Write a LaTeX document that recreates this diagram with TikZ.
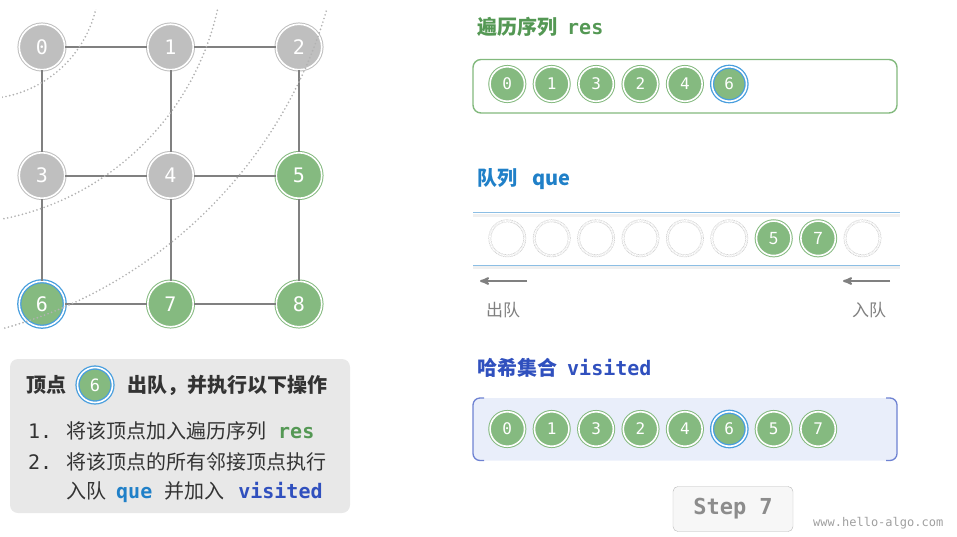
\documentclass[tikz,border=0pt]{standalone}
\usepackage{fontspec}
\setmainfont{Noto Sans CJK SC}
\newfontfamily\codefont{DejaVu Sans Mono}
\usetikzlibrary{arrows,positioning}

\definecolor{vgray}{RGB}{191,191,191}
\definecolor{vgreen}{RGB}{133,186,128}
\definecolor{ringblue}{RGB}{72,158,222}
\definecolor{edgegray}{RGB}{128,128,128}
\definecolor{resgreen}{RGB}{84,152,84}
\definecolor{queblue}{RGB}{32,128,200}
\definecolor{visblue}{RGB}{48,80,190}
\definecolor{boxgray}{RGB}{232,232,232}
\definecolor{visfill}{RGB}{233,238,250}
\definecolor{visborder}{RGB}{110,130,210}
\definecolor{resborder}{RGB}{130,185,125}
\definecolor{qline}{RGB}{140,190,228}
\definecolor{textdark}{RGB}{51,51,51}
\definecolor{labelgray}{RGB}{128,128,128}

\newcommand{\codeword}[2]{\textcolor{#1}{\codefont\bfseries #2}}

\begin{document}
\begin{tikzpicture}[x=1pt,y=-1pt,node distance=128.5pt]
    \tikzstyle{vertex}=[circle, minimum size=45.5pt, inner sep=0pt, line width=1pt, double=white, double distance=1.6pt, draw=vgray, fill=vgray, text=white, font=\codefont\fontsize{20}{20}\selectfont]
    \tikzstyle{seen}=[draw=vgreen, fill=vgreen]
    \tikzstyle{current}=[draw=ringblue, fill=vgreen, line width=1.3pt]
    \tikzstyle{small}=[minimum size=34.5pt, font=\codefont\fontsize{16}{16}\selectfont]
    \tikzstyle{slot}=[circle, minimum size=35pt, inner sep=0pt, line width=0.6pt, double=white, double distance=1.6pt, draw=gray!40, dash pattern=on 1pt off 0.7pt]
    \tikzstyle{link}=[draw=edgegray, line width=2pt]
    \tikzstyle{wave}=[draw=gray!60, line width=1.9pt, line cap=round, dash pattern=on 0pt off 3.8pt]
    \tikzstyle{heading}=[anchor=base west, inner sep=0pt, font=\bfseries\fontsize{20}{24}\selectfont]
    \tikzstyle{note}=[anchor=base west, inner sep=0pt, text=textdark, font=\fontsize{20}{24}\selectfont]
    \tikzstyle{arrowline}=[draw=labelgray, line width=2pt, -stealth']
    \tikzstyle{stepbox}=[draw=gray!55, fill=gray!6, rounded corners=5pt, minimum width=120pt, minimum height=45pt, text=gray!110!black, font=\codefont\bfseries\fontsize{22}{22}\selectfont]

    \useasboundingbox (0,0) rectangle (957,536);

    % graph
    \node[vertex]          (v0) at (42,47) {0};
    \node[vertex]          (v1) [right of=v0] {1};
    \node[vertex]          (v2) [right of=v1] {2};
    \node[vertex]          (v3) [below of=v0] {3};
    \node[vertex]          (v4) [right of=v3] {4};
    \node[vertex, seen]    (v5) [right of=v4] {5};
    \node[vertex, current] (v6) [below of=v3] {6};
    \node[vertex, seen]    (v7) [right of=v6] {7};
    \node[vertex, seen]    (v8) [right of=v7] {8};

    \path[link] (v0) edge (v1);
    \path[link] (v1) edge (v2);
    \path[link] (v0) edge (v3);
    \path[link] (v1) edge (v4);
    \path[link] (v2) edge (v5);
    \path[link] (v3) edge (v4);
    \path[link] (v4) edge (v5);
    \path[link] (v3) edge (v6);
    \path[link] (v4) edge (v7);
    \path[link] (v5) edge (v8);
    \path[link] (v6) edge (v7);
    \path[link] (v7) edge (v8);

    % distance rings
    \begin{scope}
      \clip (2,9) rectangle (345,345);
      \draw[wave] (-18,-18) circle[radius=117];
      \draw[wave] (-50,-50) circle[radius=274];
      \draw[wave] (-120,-120) circle[radius=465];
    \end{scope}

    % operation box
    \fill[boxgray, rounded corners=8pt] (10,359) rectangle (350,513);
    \node[heading, text=textdark] (optitle) at (26,392) {顶点};
    \node[vertex, current, minimum size=35pt, font=\codefont\fontsize{17}{17}\selectfont] (opnode) at (95,385) {6};
    \node[heading, text=textdark] (opaction) at (127,392) {出队，并执行以下操作};
    \node[note] (num1) at (28,438) {{\codefont 1.}};
    \node[note] (op1) at (66,438) {将该顶点加入遍历序列\hspace{12pt}\codeword{resgreen}{res}};
    \node[note] (num2) at (28,469) {{\codefont 2.}};
    \node[note] (op2) at (66,469) {将该顶点的所有邻接顶点执行};
    \node[note] (op2b) at (66,498) {入队\hspace{10pt}\codeword{queblue}{que}\hspace{12pt}并加入\hspace{14pt}\codeword{visblue}{visited}};

    % res
    \node[heading, text=resgreen] (restitle) at (477,34) {遍历序列\hspace{10pt}{\codefont res}};
    \draw[resborder, line width=1.4pt, rounded corners=8pt] (473,59.5) rectangle (897,113);
    \begin{scope}[node distance=44.4pt]
      \node[vertex, small, seen]    (r0) at (507.3,84) {0};
      \node[vertex, small, seen]    (r1) [right of=r0] {1};
      \node[vertex, small, seen]    (r2) [right of=r1] {3};
      \node[vertex, small, seen]    (r3) [right of=r2] {2};
      \node[vertex, small, seen]    (r4) [right of=r3] {4};
      \node[vertex, small, current] (r5) [right of=r4] {6};
    \end{scope}

    % que
    \node[heading, text=queblue] (quetitle) at (477,185) {队列\hspace{15pt}que};
    \draw[gray!12, line width=3pt] (473,215) -- (900,215);
    \draw[gray!12, line width=3pt] (473,267.5) -- (900,267.5);
    \draw[qline, line width=1.2pt] (473,212.7) -- (900,212.7);
    \draw[qline, line width=1.2pt] (473,265.3) -- (900,265.3);
    \begin{scope}[node distance=44.4pt]
      \node[slot] (q0) at (507.3,238.3) {};
      \node[slot] (q1) [right of=q0] {};
      \node[slot] (q2) [right of=q1] {};
      \node[slot] (q3) [right of=q2] {};
      \node[slot] (q4) [right of=q3] {};
      \node[slot] (q5) [right of=q4] {};
      \node[vertex, small, seen, font=\fontsize{17}{17}\selectfont] (q6) [right of=q5] {5};
      \node[vertex, small, seen, font=\fontsize{17}{17}\selectfont] (q7) [right of=q6] {7};
      \node[slot] (q8) [right of=q7] {};
    \end{scope}
    \coordinate (outtail) at (527,281);
    \coordinate (outhead) at (480,281);
    \coordinate (intail) at (890,281);
    \coordinate (inhead) at (843,281);
    \draw[arrowline] (outtail) -- (outhead);
    \draw[arrowline] (intail) -- (inhead);
    \node[note, text=labelgray, font=\fontsize{17}{20}\selectfont] (outlabel) at (486,316) {出队};
    \node[note, text=labelgray, font=\fontsize{17}{20}\selectfont] (inlabel) at (852,316) {入队};

    % visited
    \node[heading, text=visblue] (vistitle) at (477,375) {哈希集合\hspace{10pt}{\codefont visited}};
    \fill[visfill, rounded corners=7pt] (473,398) rectangle (897,460.5);
    \draw[visborder, line width=1.3pt, rounded corners=7pt] (484,398) -- (473,398) -- (473,460.5) -- (484,460.5);
    \draw[visborder, line width=1.3pt, rounded corners=7pt] (886,398) -- (897,398) -- (897,460.5) -- (886,460.5);
    \begin{scope}[node distance=44.4pt]
      \node[vertex, small, seen]    (s0) at (507.3,429) {0};
      \node[vertex, small, seen]    (s1) [right of=s0] {1};
      \node[vertex, small, seen]    (s2) [right of=s1] {3};
      \node[vertex, small, seen]    (s3) [right of=s2] {2};
      \node[vertex, small, seen]    (s4) [right of=s3] {4};
      \node[vertex, small, current] (s5) [right of=s4] {6};
      \node[vertex, small, seen]    (s6) [right of=s5] {5};
      \node[vertex, small, seen]    (s7) [right of=s6] {7};
    \end{scope}

    \node[stepbox] (step) at (733,509) {Step 7};
    \node[anchor=base west, inner sep=0pt, text=gray!75, font=\codefont\fontsize{12}{12}\selectfont] (site) at (813,526) {www.hello-algo.com};

\end{tikzpicture}
\end{document}
